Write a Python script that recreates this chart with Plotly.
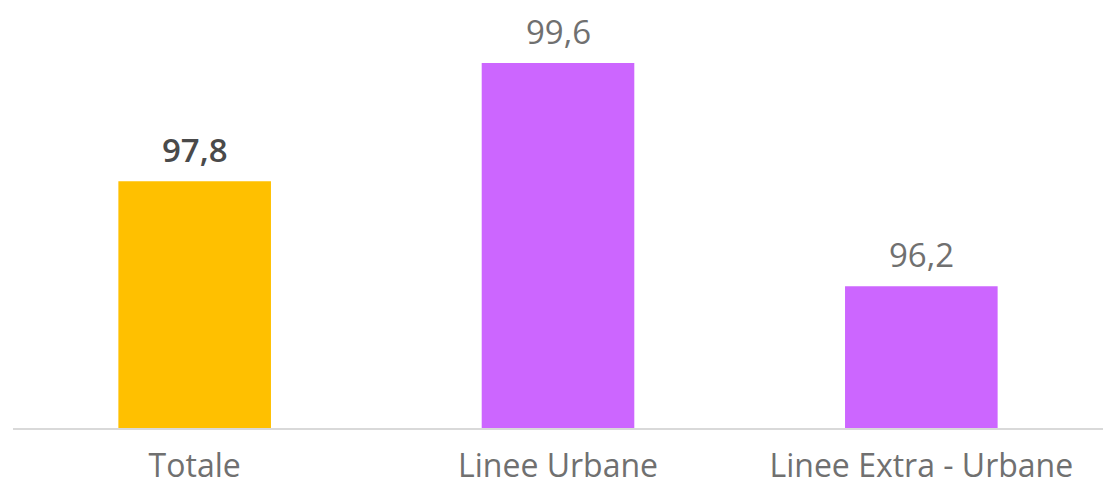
import plotly.graph_objects as go

categories = ["Totale", "Linee Urbane", "Linee Extra - Urbane"]
values = [97.8, 99.6, 96.2]
labels = ["97,8", "99,6", "96,2"]
colors = ["#FFC000", "#CC66FF", "#CC66FF"]
label_colors = ["#4A4A4A", "#707070", "#707070"]
label_weight = [600, 400, 400]

fig = go.Figure()
fig.add_trace(go.Bar(
    x=categories, y=values, base=0,
    marker=dict(color=colors, line=dict(width=0)),
    width=0.42,
))

for c, v, t, lc, w in zip(categories, values, labels, label_colors, label_weight):
    fig.add_annotation(
        x=c, y=v, text=t, showarrow=False,
        yanchor="bottom", yshift=7,
        font=dict(family="Open Sans", size=33, color=lc, weight=w),
    )

fig.update_layout(
    width=1103, height=486,
    margin=dict(l=13, r=0, t=0, b=58),
    paper_bgcolor="white", plot_bgcolor="white",
    showlegend=False,
    bargap=0.58,
    xaxis=dict(
        showline=True, linecolor="#D9D9D9", linewidth=1.5,
        showgrid=False, ticks="", ticklabelstandoff=9, automargin=False,
        tickfont=dict(family="Open Sans", size=32, color="#707070"),
        range=[-0.5, 2.5],
    ),
    yaxis=dict(
        range=[94.04, 100.56], visible=False, showgrid=False, zeroline=False,
    ),
)

fig.write_html("out.html")
